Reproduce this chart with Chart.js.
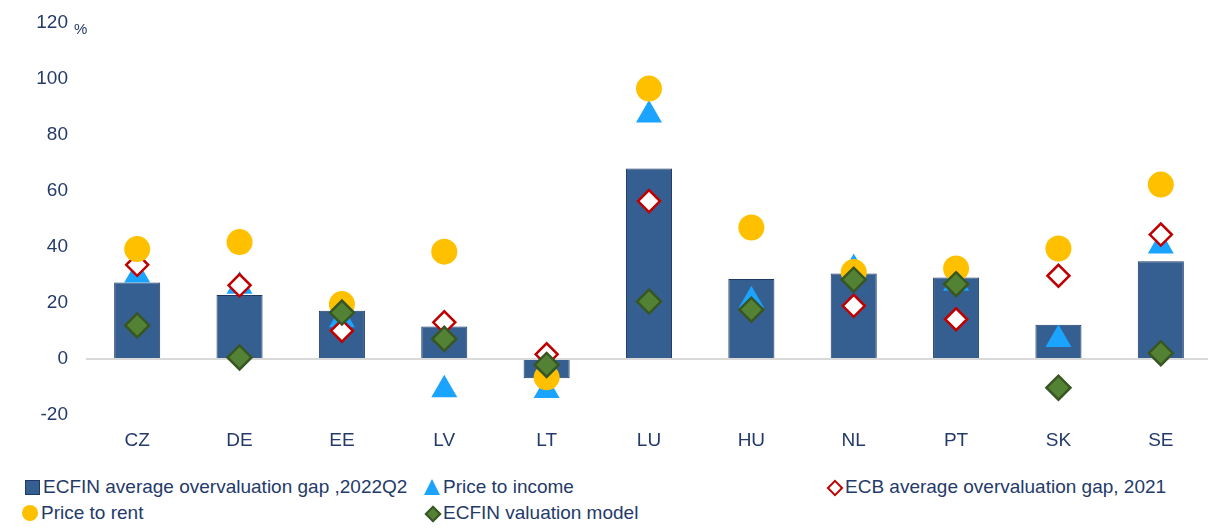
<!DOCTYPE html>
<html>
<head>
<meta charset="utf-8">
<script src="https://cdn.jsdelivr.net/npm/chart.js@4/dist/chart.umd.min.js"></script>
<style>
  html, body { margin: 0; padding: 0; background: #fff; }
  body { width: 1208px; height: 530px; position: relative; overflow: hidden; font-family: 'Liberation Sans', Arial, sans-serif; color: #243a6a; }
  /* a bit bigger than the page: Chart.js keeps some padding we don't want */
  #wrap { position: absolute; left: 0; top: -7px; width: 1227px; height: 473px; }
  #unit { position: absolute; left: 74px; top: 20px; font-size: 15px; }
  .lg { position: absolute; font-size: 19px; line-height: 22px; white-space: nowrap; display: flex; align-items: center; }
  .mk { display: inline-block; width: 16px; height: 16px; margin-right: 3px; position: relative; }
  .sq { background: #365f91; border: 1px solid #1f3864; width: 13px; height: 13px; margin-left: 1px; }
  .tri { width: 0; height: 0; border-left: 8px solid transparent; border-right: 8px solid transparent; border-bottom: 16px solid #1aa3ff; }
  .circ { background: #ffc000; border-radius: 50%; }
  .dia::after { content: ''; position: absolute; left: 3px; top: 3px; width: 8px; height: 8px; transform: rotate(45deg); }
  .dia.red::after { background: #fff; border: 2px solid #c00000; }
  .dia.green::after { background: #548235; border: 2px solid #375623; }
</style>
</head>
<body>
<div id="wrap"><canvas id="chart"></canvas></div>
<span id="unit">%</span>

<div class="lg" style="left:24px; top:476px;"><span class="mk sq"></span>ECFIN average overvaluation gap ,2022Q2</div>
<div class="lg" style="left:424px; top:476px;"><span class="mk tri"></span>Price to income</div>
<div class="lg" style="left:826px; top:476px;"><span class="mk dia red"></span>ECB average overvaluation gap, 2021</div>
<div class="lg" style="left:22px; top:502px;"><span class="mk circ"></span>Price to rent</div>
<div class="lg" style="left:424px; top:502px;"><span class="mk dia green"></span>ECFIN valuation model</div>

<script>
// categories and series
const COUNTRIES = ['CZ', 'DE', 'EE', 'LV', 'LT', 'LU', 'HU', 'NL', 'PT', 'SK', 'SE'];
const ECFIN_GAP = [27.3, 22.8, 17.2, 11.6, -6.8, 67.9, 28.5, 30.5, 29.1, 12.2, 34.9];
const PRICE_TO_INCOME = [30, 26, 14, -10.9, -11.2, 87, 20.8, 32.3, 27, 7, 40.3];
const PRICE_TO_RENT = [39.2, 41.7, 19.6, 38.3, -6.5, 96.4, 46.9, 31, 32.3, 39.4, 62.2];
const ECB_GAP = [33.6, 26.3, 10.1, 13.1, 1.7, 56.3, null, 19, 14.2, 29.7, 44.4];
const ECFIN_MODEL = [12, 0.6, 16.6, 7.2, -2.1, 20.5, 17.6, 28.3, 26.7, -10.2, 2.1];
const Y_TICKS = [-20, 0, 20, 40, 60, 80, 100, 120];

const TEXT = '#243a6a';
const FONT = { family: 'Liberation Sans', size: 19 };

// marker-only "line" dataset
function markers(label, data, style, radius, fill, border, borderWidth, order) {
  return {
    type: 'line', label, data, order,
    showLine: false,
    pointStyle: style, pointRadius: radius, pointHoverRadius: radius,
    pointBackgroundColor: fill, pointBorderColor: border, pointBorderWidth: borderWidth,
    backgroundColor: fill, borderColor: border
  };
}

new Chart(document.getElementById('chart'), {
  type: 'bar',
  data: {
    labels: COUNTRIES,
    datasets: [
      { type: 'bar', label: 'ECFIN average overvaluation gap ,2022Q2', data: ECFIN_GAP, order: 5,
        backgroundColor: '#365f91', borderColor: '#1f3864', borderWidth: 1,
        barPercentage: 0.45, categoryPercentage: 1 },
      markers('Price to income', PRICE_TO_INCOME, 'triangle', 15, '#1aa3ff', '#1aa3ff', 0, 4),
      markers('ECB average overvaluation gap, 2021', ECB_GAP, 'rectRot', 11, '#ffffff', '#c00000', 2.5, 3),
      markers('Price to rent', PRICE_TO_RENT, 'circle', 13, '#ffc000', '#ffc000', 0, 2),
      markers('ECFIN valuation model', ECFIN_MODEL, 'rectRot', 12, '#548235', '#375623', 2.5, 1)
    ]
  },
  options: {
    responsive: true,
    maintainAspectRatio: false,
    animation: false,
    layout: { padding: { top: 4, right: 0, left: 0, bottom: 0 } },
    plugins: { legend: { display: false }, tooltip: { enabled: false } },
    scales: {
      x: {
        grid: { display: false, drawTicks: false },
        border: { display: false },
        ticks: { color: TEXT, font: FONT, padding: 14 }
      },
      y: {
        min: -20, max: 120,
        afterBuildTicks: axis => { axis.ticks = Y_TICKS.map(v => ({ value: v })); },
        afterFit: axis => { axis.width = 86; },
        grid: {
          drawTicks: false,
          color: ctx => ctx.tick && ctx.tick.value === 0 ? '#d9d9d9' : 'rgba(0,0,0,0)',
          lineWidth: 2
        },
        border: { display: false },
        ticks: { color: TEXT, font: FONT, padding: 18 }
      }
    }
  }
});
</script>
</body>
</html>
